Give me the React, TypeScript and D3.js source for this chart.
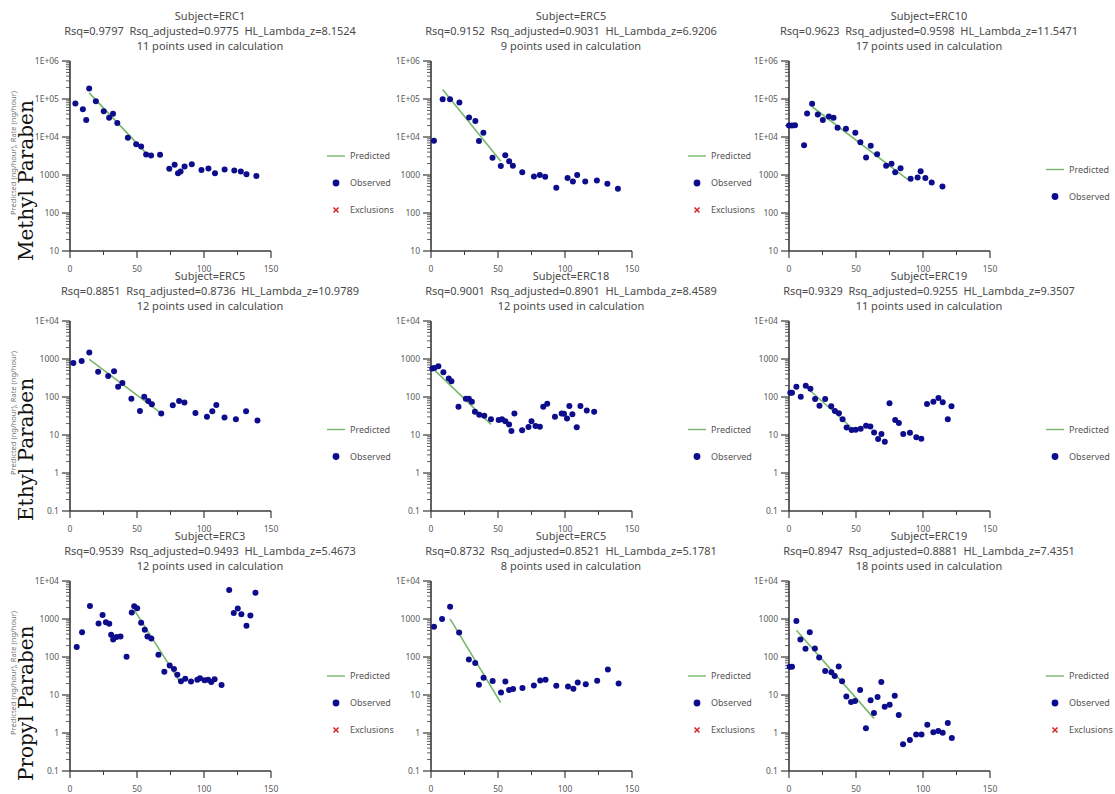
import React from "react";
import * as d3 from "d3";

// row labels (one per analyte) and the y domains of each row
const rowNames = ["Methyl Paraben", "Ethyl Paraben", "Propyl Paraben"];
const yDomains = [[10, 1e6], [0.1, 1e4], [0.1, 1e4]];
const xTicks = [0, 50, 100, 150];
const xDomain = [0, 150];

// observed points [time, rate]
const methylErc1 = [[4.0, 75900], [9.6, 54000], [12.1, 28000], [14.3, 190000], [19.3, 87000], [25.2, 47500], [29.2, 32000], [32.1, 41000], [35.3, 23400], [43.2, 9600], [49.4, 6400], [53.1, 5600], [56.8, 3470], [60.5, 3260], [67.2, 3400], [74.1, 1450], [78.1, 1850], [80.6, 1110], [82.5, 1230], [85.5, 1670], [90.9, 1920], [98.1, 1360], [103.3, 1480], [108.2, 1110], [115.4, 1390], [122.6, 1310], [127.5, 1230], [131.7, 1050], [139.1, 944]];
const methylErc5 = [[2.2, 8000], [8.7, 99000], [14.2, 99000], [21.2, 81000], [28.4, 32500], [33.1, 26500], [35.8, 7900], [39.1, 13000], [45.9, 2860], [52.1, 1720], [55.4, 3300], [58.3, 2290], [61.1, 1760], [68.1, 1190], [76.8, 918], [81.2, 995], [85.2, 900], [93.5, 461], [101.9, 830], [105.9, 678], [109.1, 995], [115.1, 678], [123.8, 720], [131.6, 588], [139.5, 433]];
const methylErc10 = [[0, 20000], [2.25, 20000], [4.5, 20500], [11.25, 6100], [13.5, 41700], [17.25, 75000], [21.5, 39300], [25.25, 27900], [29.75, 34800], [33.25, 32000], [36.25, 17500], [42.5, 16500], [49.5, 12900], [53.25, 7300], [57.5, 2880], [61, 5900], [65.75, 3530], [72.5, 1740], [76.5, 1970], [79.25, 1190], [83.25, 1510], [90.75, 791], [96, 857], [98.25, 1260], [101.75, 840], [106.5, 632], [114.5, 497]];
const ethylErc5 = [[2.5, 783], [8.7, 883], [14.4, 1486], [21, 465], [28.5, 358], [32.9, 474], [35.9, 185], [39.1, 235], [45.8, 90], [52.2, 43], [55.4, 101], [58.4, 78], [61.1, 64], [68.1, 37], [76.7, 61], [81.4, 78], [85.4, 72], [93.6, 38], [102.2, 30], [106.2, 42], [109.2, 62], [115.3, 29], [123.8, 26], [131.4, 42], [139.9, 24]];
const ethylErc18 = [[1, 560], [2.5, 580], [5.5, 640], [9.25, 447], [13.25, 305], [15.25, 260], [20.5, 55], [26, 90], [28.25, 90], [30.5, 75], [32.75, 41], [36, 34], [39.75, 32], [44.75, 26], [50.5, 25], [53, 26], [55.5, 23], [58.25, 19], [60, 12.8], [62.25, 37], [68, 13.3], [72.75, 16.3], [75, 23], [78, 17.3], [81.25, 16.6], [83.75, 55], [86.75, 66], [92.5, 30], [97.5, 37], [99.25, 36], [101.5, 27], [103.25, 58], [105.5, 35], [108.75, 16], [111.5, 58], [116.25, 44], [121.75, 41]];
const ethylErc19 = [[1, 130], [2.25, 130], [5.5, 186], [8.75, 102], [12.5, 198], [16, 165], [19.5, 89], [22.75, 59], [27, 89], [31.5, 57], [34.25, 43], [37.25, 37.5], [40, 26], [43, 15.8], [46.75, 13.5], [49.75, 13.8], [53.5, 14.6], [57.5, 17.5], [60.75, 16.8], [63.5, 11.7], [66.5, 7.9], [69, 10.7], [71.5, 6.6], [75, 68], [79.25, 25], [82, 20.6], [85.25, 10.7], [90.25, 11.5], [95, 8.7], [98.75, 8.0], [103, 65.6], [107.75, 75.5], [111.5, 94], [114.75, 72.6], [118.5, 26], [121.25, 57]];
const propylErc3 = [[5, 182], [9, 451], [14.9, 2208], [21.3, 760], [24.3, 1282], [26.8, 825], [29.3, 745], [30.7, 384], [32.2, 290], [34.7, 334], [37.7, 347], [42.2, 102], [46.1, 1479], [47.9, 2168], [50.1, 1919], [53.1, 792], [55.8, 519], [57.8, 347], [60.7, 307], [66, 115], [70.4, 41], [74.4, 60], [77.6, 48], [80.1, 34], [82.8, 22.9], [86, 26.9], [90.3, 22.5], [95, 25.3], [97, 27.5], [100.4, 24.3], [103.1, 25.3], [105.4, 22], [107.9, 25.9], [113.1, 18.4], [118.8, 5808], [122.2, 1449], [125.2, 1879], [127.9, 1334], [131.7, 661], [134.6, 1233], [138.4, 4943]];
const propylErc5 = [[2.25, 625], [8.25, 1000], [14.25, 2085], [21, 444], [28.25, 85.5], [33, 70], [35.75, 18.6], [39.25, 28.3], [46, 23.2], [52.25, 11.7], [55.5, 22.7], [58.25, 13.5], [61.25, 14.3], [68.25, 15.2], [76.75, 17.8], [81.5, 24.1], [85.5, 25.1], [93.5, 17.5], [102.25, 16.8], [106.25, 14.6], [109.5, 21.4], [115.5, 19.3], [124, 23.6], [132, 46.8], [140, 20.1]];
const propylErc19 = [[0.5, 55.5], [2.25, 55.5], [5.5, 883], [8.5, 287], [12.3, 164], [15.5, 447], [19.3, 167], [22.5, 97], [27, 42.8], [31.6, 39.4], [34.1, 31.6], [37.1, 56.6], [39.6, 23], [42.8, 9.1], [46.3, 6.5], [49.3, 6.9], [53.1, 13.6], [57.4, 1.33], [60.9, 7.3], [63.4, 3.34], [66.1, 8.9], [68.9, 22], [71.4, 4.9], [75.1, 5.5], [78.9, 9.5], [81.9, 2.97], [85.1, 0.508], [90.2, 0.659], [94.9, 0.908], [98.9, 0.908], [103.2, 1.66], [107.7, 1.04], [111.4, 1.13], [114.7, 1.02], [118.5, 1.83], [121.5, 0.743]];

// predicted regression line end points [time, rate]
const predMethylErc1 = [[14.3, 145000], [56.8, 3760]];
const predMethylErc5 = [[8.7, 179000], [52.1, 2290]];
const predMethylErc10 = [[17.25, 62500], [88.75, 760]];
const predEthylErc5 = [[14.4, 977], [68.1, 37]];
const predEthylErc18 = [[0.5, 600], [44.75, 19]];
const predEthylErc19 = [[12.5, 186], [46, 16.5]];
const predPropylErc3 = [[47.9, 1738], [81.8, 22.9]];
const predPropylErc5 = [[14.25, 1012], [52, 6.3]];
const predPropylErc19 = [[5.5, 504], [63.4, 2.43]];

// panel headers
const subjects = ["ERC1", "ERC5", "ERC10", "ERC5", "ERC18", "ERC19", "ERC3", "ERC5", "ERC19"];
const rsq = ["0.9797", "0.9152", "0.9623", "0.8851", "0.9001", "0.9329", "0.9539", "0.8732", "0.8947"];
const rsqAdjusted = ["0.9775", "0.9031", "0.9598", "0.8736", "0.8901", "0.9255", "0.9493", "0.8521", "0.8881"];
const hlLambdaZ = ["8.1524", "6.9206", "11.5471", "10.9789", "8.4589", "9.3507", "5.4673", "5.1781", "7.4351"];
const pointsUsed = [11, 9, 17, 12, 12, 11, 12, 8, 18];
const hasExclusions = [true, true, false, false, false, false, true, true, true];

const observed = [methylErc1, methylErc5, methylErc10, ethylErc5, ethylErc18, ethylErc19, propylErc3, propylErc5, propylErc19];
const predicted = [predMethylErc1, predMethylErc5, predMethylErc10, predEthylErc5, predEthylErc18, predEthylErc19, predPropylErc3, predPropylErc5, predPropylErc19];

// layout
const colLefts = [70, 431, 789];
const rowTops = [61, 321, 581];
const plotW = 201;
const plotH = 190;

const sans = "'Noto Sans', 'Open Sans', sans-serif";
const dotColor = "#0c0c8c";
const lineColor = "#78b86a";
const axisColor = "#3a3a3a";
const textColor = "#4a4a4a";

function yLabel(v) {
  const p = Math.round(Math.log10(v));
  if (p >= 4) return `1E+${String(p).padStart(2, "0")}`;
  return String(v);
}

function Panel({ idx }) {
  const row = Math.floor(idx / 3);
  const col = idx % 3;
  const left = colLefts[col];
  const top = rowTops[row];

  const x = d3.scaleLinear().domain(xDomain).range([0, plotW]);
  const y = d3.scaleLog().domain(yDomains[row]).range([plotH, 0]);

  const allTicks = y.ticks();
  const majors = allTicks.filter((t) => Math.abs(Math.log10(t) - Math.round(Math.log10(t))) < 1e-9);
  const minors = allTicks.filter((t) => !majors.includes(t));
  const xMinor = d3.range(0, 151, 25).filter((t) => !xTicks.includes(t));

  const line = d3.line().x((d) => x(d[0])).y((d) => y(d[1]));

  const legendItems = hasExclusions[idx] ? ["Predicted", "Observed", "Exclusions"] : ["Predicted", "Observed"];
  const legendTop = hasExclusions[idx] ? 95 : 108.5;
  const titleX = 140;

  return (
    <g transform={`translate(${left},${top})`}>
      <g fontFamily={sans} fill={textColor} textAnchor="middle" fontSize={11}>
        <text x={titleX} y={-41}>{`Subject=${subjects[idx]}`}</text>
        <text x={titleX} y={-26} style={{ whiteSpace: "pre" }}>
          {`Rsq=${rsq[idx]}  Rsq_adjusted=${rsqAdjusted[idx]}  HL_Lambda_z=${hlLambdaZ[idx]}`}
        </text>
        <text x={titleX} y={-11}>{`${pointsUsed[idx]} points used in calculation`}</text>
      </g>

      {/* y axis */}
      <line x1={0} x2={0} y1={0} y2={plotH} stroke={axisColor} strokeWidth={1.6} />
      {minors.map((t) => (
        <line key={"m" + t} x1={-4} x2={0} y1={y(t)} y2={y(t)} stroke={axisColor} strokeWidth={0.8} />
      ))}
      {majors.map((t) => (
        <g key={"M" + t}>
          <line x1={-8} x2={0} y1={y(t)} y2={y(t)} stroke={axisColor} strokeWidth={1.2} />
          <text x={-11} y={y(t)} dy="0.34em" textAnchor="end" fontFamily={sans} fontSize={8.5} fill="#5a5a5a">
            {yLabel(t)}
          </text>
        </g>
      ))}

      {/* x axis */}
      <line x1={0} x2={plotW} y1={plotH} y2={plotH} stroke={axisColor} strokeWidth={1.6} />
      {xMinor.map((t) => (
        <line key={"xm" + t} x1={x(t)} x2={x(t)} y1={plotH} y2={plotH + 4} stroke={axisColor} strokeWidth={1} />
      ))}
      {xTicks.map((t) => (
        <g key={"xt" + t}>
          <line x1={x(t)} x2={x(t)} y1={plotH} y2={plotH + 7} stroke={axisColor} strokeWidth={1.2} />
          <text x={x(t)} y={plotH + 21} textAnchor="middle" fontFamily={sans} fontSize={8.5} fill="#5a5a5a">
            {t}
          </text>
        </g>
      ))}

      {/* marks */}
      <path d={line(predicted[idx])} fill="none" stroke={lineColor} strokeWidth={1.6} />
      {observed[idx].map((d, i) => (
        <circle key={i} cx={x(d[0])} cy={y(d[1])} r={3} fill={dotColor} />
      ))}

      {/* legend */}
      {legendItems.map((name, i) => {
        const ly = legendTop + i * 27;
        return (
          <g key={name}>
            {name === "Predicted" && <line x1={257} x2={275} y1={ly} y2={ly} stroke={lineColor} strokeWidth={1.4} />}
            {name === "Observed" && <circle cx={266} cy={ly} r={3.4} fill={dotColor} />}
            {name === "Exclusions" && (
              <path d={`M${263.5},${ly - 2.5}L${268.5},${ly + 2.5}M${268.5},${ly - 2.5}L${263.5},${ly + 2.5}`} stroke="#d22a2a" strokeWidth={1.6} />
            )}
            <text x={280} y={ly} dy="0.34em" fontFamily={sans} fontSize={9} fill="#555">
              {name}
            </text>
          </g>
        );
      })}
    </g>
  );
}

export default function App() {
  return (
    <svg width={1115} height={794} style={{ position: "absolute", left: 0, top: 0, background: "#fff" }}>
      {d3.range(9).map((i) => (
        <Panel key={i} idx={i} />
      ))}
      {rowNames.map((name, r) => {
        const mid = rowTops[r] + plotH / 2 - 3;
        return (
          <g key={name}>
            <text transform={`translate(16,${mid}) rotate(-90)`} textAnchor="middle" fontFamily={sans} fontSize={7.5} fill="#777">
              Predicted (ng/hour), Rate (ng/hour)
            </text>
            <text transform={`translate(33,${rowTops[r] + 200}) rotate(-90)`} fontFamily="'DejaVu Serif', serif" fontSize={20} fill="#111">
              {name}
            </text>
          </g>
        );
      })}
    </svg>
  );
}
